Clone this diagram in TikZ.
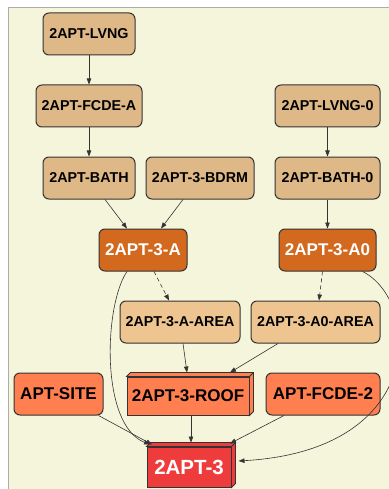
\documentclass[tikz,border=0pt]{standalone}
\usepackage{fontspec}
\setmainfont{Liberation Sans}
\usetikzlibrary{arrows.meta}

\definecolor{bgbeige}{HTML}{F5F5DC}
\definecolor{tanfill}{HTML}{DEB887}
\definecolor{tanlight}{HTML}{EEC591}
\definecolor{chocfill}{HTML}{D2691E}
\definecolor{coralfill}{HTML}{FF7F50}
\definecolor{redfill}{HTML}{EE3B3B}
\definecolor{edgec}{HTML}{333333}

% top and right faces of a box3d-style node
\newcommand\cubefaces[2]{%
  \filldraw[fill=#2, draw=edgec, line width=0.8pt]
    (#1.north west) -- ++(4pt,4pt) -- ([shift={(4pt,4pt)}]#1.north east)
    -- ([shift={(4pt,4pt)}]#1.south east) -- (#1.south east)
    -- (#1.north east) -- cycle;
  \draw[edgec, line width=0.8pt] (#1.north east) -- ++(4pt,4pt);
}

\tikzset{
  base/.style={draw=edgec, line width=1pt, inner sep=0pt, minimum height=42pt,
    font=\bfseries\fontsize{14.3}{16}\selectfont},
  tanbox/.style={base, rounded corners=6pt, fill=tanfill},
  areabox/.style={base, rounded corners=6pt, fill=tanlight},
  chocbox/.style={base, rounded corners=6pt, fill=chocfill, text=white,
    font=\bfseries\fontsize{17}{19}\selectfont},
  coralbox/.style={base, rounded corners=6pt, fill=coralfill,
    font=\bfseries\fontsize{17}{19}\selectfont},
  roofbox/.style={base, fill=coralfill, minimum height=38pt,
    font=\bfseries\fontsize{17}{19}\selectfont},
  finalbox/.style={base, fill=redfill, minimum height=40pt, text=white,
    font=\bfseries\fontsize{20.5}{23}\selectfont},
  link/.style={draw=edgec, line width=0.6pt, -{Triangle[length=6pt,width=4.5pt]}},
  dashlink/.style={link, dash pattern=on 4pt off 3pt},
}

\begin{document}
\begin{tikzpicture}[x=1pt, y=-1pt]
  \useasboundingbox (0,0) rectangle (388,489);
  \fill[white] (0,0) rectangle (388,489);
  \filldraw[fill=bgbeige, draw=gray!65, line width=1.5pt] (8.5,7.5) rectangle (396,497);

  % nodes
  \node[tanbox, minimum width=92pt]  (lvng)   at (89,34)    {2APT-LVNG};
  \node[tanbox, minimum width=106pt] (fcdea)  at (89,106)   {2APT-FCDE-A};
  \node[tanbox, minimum width=105pt] (lvng0)  at (327.5,106){2APT-LVNG-0};
  \node[tanbox, minimum width=92pt]  (bath)   at (89,178)   {2APT-BATH};
  \node[tanbox, minimum width=108pt] (bdrm)   at (200,178)  {2APT-3-BDRM};
  \node[tanbox, minimum width=105pt] (bath0)  at (327.5,178){2APT-BATH-0};
  \node[chocbox, minimum width=88pt] (a3)     at (143,250)  {2APT-3-A};
  \node[chocbox, minimum width=97pt] (a30)    at (327.5,250){2APT-3-A0};
  \node[areabox, minimum width=120pt] (aarea) at (180,322)  {2APT-3-A-AREA};
  \node[areabox, minimum width=129pt] (a0area) at (315.5,322){2APT-3-A0-AREA};
  \node[coralbox, minimum width=89pt] (site)  at (58.5,394) {APT-SITE};
  \node[roofbox, minimum width=122pt] (roof)  at (188,396)  {2APT-3-ROOF};
  \cubefaces{roof}{coralfill}
  \node[coralbox, minimum width=114pt] (fcde2) at (323,394) {APT-FCDE-2};
  \node[finalbox, minimum width=84pt] (apt3)  at (189,467)  {2APT-3};
  \cubefaces{apt3}{redfill}

  % connectors
  \draw[link] (lvng) -- (fcdea);
  \draw[link] (fcdea) -- (bath);
  \draw[link] (lvng0) -- (bath0);
  \draw[link] ([xshift=16pt]bath.south) -- ([xshift=-16pt]a3.north);
  \draw[link] ([xshift=-17pt]bdrm.south) -- ([xshift=18pt]a3.north);
  \draw[link] (bath0) -- (a30);
  \draw[dashlink] ([xshift=11pt]a3.south) -- ([xshift=-11pt]aarea.north);
  \draw[dashlink] ([xshift=-5pt]a30.south) -- ([xshift=3.5pt]a0area.north);
  \draw[link] ([xshift=3pt]aarea.south) -- ([xshift=-1pt,yshift=4pt]roof.north);
  \draw[link] ([xshift=-37.5pt]a0area.south) -- ([xshift=42pt,yshift=4pt]roof.north);
  \draw[link] ([xshift=40pt]site.south) -- ([xshift=-37pt,yshift=2pt]apt3.north);
  \draw[link] ([xshift=3pt]roof.south) -- ([xshift=2pt,yshift=4pt]apt3.north);
  \draw[link] ([xshift=-39pt]fcde2.south) -- ([xshift=41pt,yshift=3pt]apt3.north);
  \draw[link] ([xshift=-16pt]a3.south) .. controls (104,305) and (100,425) .. ([xshift=-39pt,yshift=2pt]apt3.north);
  \draw[link] ([xshift=35pt]a30.south) .. controls (420,300) and (430,450) .. ([xshift=7pt,yshift=6pt]apt3.east);
\end{tikzpicture}
\end{document}
